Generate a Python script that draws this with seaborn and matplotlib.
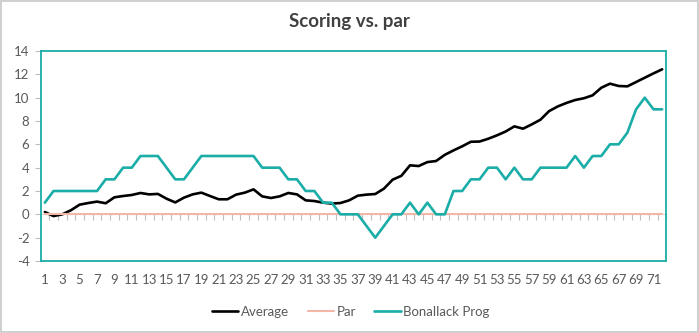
import matplotlib
matplotlib.use("Agg")
import matplotlib.pyplot as plt
from matplotlib.lines import Line2D
import pandas as pd
import seaborn as sns

rounds = list(range(1, 73))
average = [0.2, -0.15, 0.0, 0.35, 0.83, 0.97, 1.09, 0.95, 1.46, 1.57, 1.66, 1.83, 1.71, 1.75,
           1.34, 1.02, 1.43, 1.71, 1.86, 1.57, 1.29, 1.29, 1.69, 1.86, 2.14, 1.54, 1.4, 1.54,
           1.83, 1.71, 1.2, 1.14, 1.0, 0.92, 0.97, 1.2, 1.6, 1.69, 1.74, 2.2, 2.97, 3.3, 4.2,
           4.14, 4.48, 4.57, 5.1, 5.48, 5.83, 6.22, 6.24, 6.48, 6.77, 7.1, 7.54, 7.34, 7.71,
           8.11, 8.85, 9.25, 9.55, 9.8, 9.95, 10.2, 10.85, 11.2, 11.0, 10.97, 11.34, 11.71,
           12.08, 12.43]
par = [0] * 72
bonallack = [1, 2, 2, 2, 2, 2, 2, 3, 3, 4, 4, 5, 5, 5, 4, 3, 3, 4, 5, 5, 5, 5, 5, 5, 5,
             4, 4, 4, 3, 3, 2, 2, 1, 1, 0, 0, 0, -1, -2, -1, 0, 0, 1, 0, 1, 0, 0, 2, 2, 3,
             3, 4, 4, 3, 4, 3, 3, 4, 4, 4, 4, 5, 4, 5, 5, 6, 6, 7, 9, 10, 9, 9]
series_names = ["Average", "Par", "Bonallack Prog"]
series_values = [average, par, bonallack]
colors = ["#000000", "#F4B6A6", "#1BADA7"]
widths = [1.9, 1.5, 1.9]
y_ticks = list(range(-4, 15, 2))
x_label_ticks = list(range(1, 72, 2))
title = "Scoring vs. par"

sns.set_theme(style="white")
plt.rcParams["font.family"] = ["Lato", "DejaVu Sans"]

W, H = 699, 333
fig = plt.figure(figsize=(W / 100, H / 100), dpi=100)
fig.patch.set_edgecolor("#D0D0D0")
fig.patch.set_linewidth(1.5)
ax = fig.add_axes([40.5 / W, 1 - 261 / H, 626 / W, 210 / H])

for name, vals, c, lw in zip(series_names, series_values, colors, widths):
    df = pd.DataFrame({"Round": rounds, "Score": vals})
    sns.lineplot(data=df, x="Round", y="Score", color=c, linewidth=lw, ax=ax,
                 sort=False, zorder=3)

ax.set_xlim(0.5, 72.5)
ax.set_ylim(-4, 14)
ax.set_xlabel("")
ax.set_ylabel("")
ax.set_yticks(y_ticks)
ax.set_yticklabels([str(v) for v in y_ticks])
ax.set_xticks(x_label_ticks)
ax.set_xticklabels([str(v) for v in x_label_ticks])
ax.tick_params(axis="x", length=0, pad=9, labelsize=9.5, labelcolor="#595959")
ax.tick_params(axis="y", length=4, width=0.8, color="#BFBFBF", direction="out",
               pad=4, labelsize=9.5, labelcolor="#595959", left=True)
for sp in ax.spines.values():
    sp.set_color("#1BADA7")
    sp.set_linewidth(1.3)

# category axis crossing at zero with tick marks between categories
sec = ax.secondary_xaxis(0, transform=ax.transData)
sec.set_xticks([r + 0.5 for r in [0] + rounds])
sec.set_xticklabels([])
sec.tick_params(axis="x", length=4, width=0.8, color="#BFBFBF", direction="out")
sec.spines["bottom"].set_color("#D9D9D9")
sec.spines["bottom"].set_linewidth(0.8)

fig.text(0.5, 1 - 22 / H, title, ha="center", va="center", fontsize=13.5,
         fontweight="bold", color="#404040")

handles = [Line2D([], [], color=c, linewidth=lw) for c, lw in zip(colors, widths)]
ax.legend(handles, series_names, loc="center", bbox_to_anchor=(0.502, 1 - 312 / H),
          bbox_transform=fig.transFigure, ncol=3, frameon=False, fontsize=9.5,
          handlelength=2.0, handletextpad=0.2, columnspacing=1.4,
          labelcolor="#595959")

fig.savefig("out.png", dpi=100, facecolor="white", edgecolor=fig.get_edgecolor())
